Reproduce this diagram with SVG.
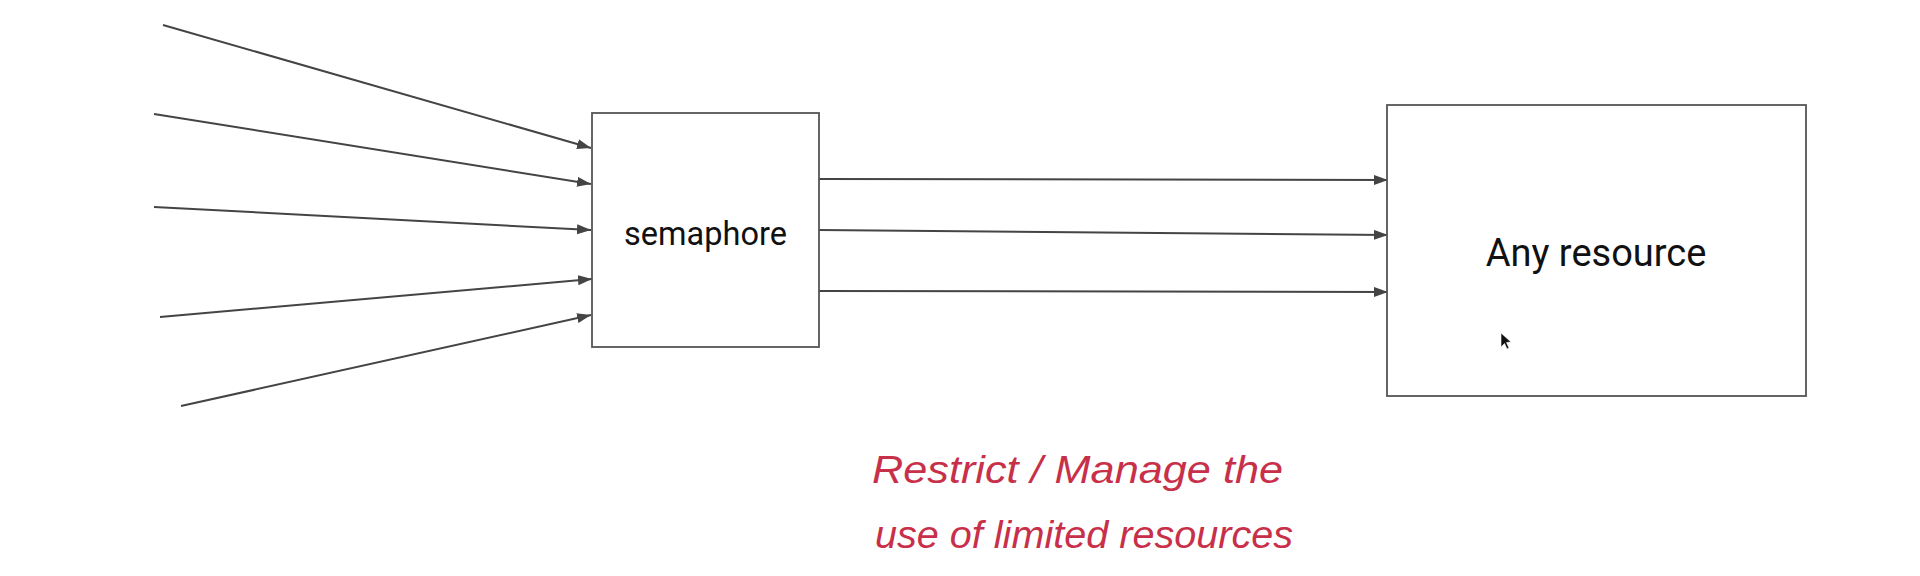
<svg xmlns="http://www.w3.org/2000/svg" width="1920" height="576" viewBox="0 0 1920 576">
<style>
.box{fill:#fff;stroke:#555;stroke-width:1.8}
.lbl{font-family:Roboto,"Liberation Sans",sans-serif;fill:#111;text-anchor:middle}
.edge{stroke:#444;stroke-width:2;fill:none;marker-end:url(#ah)}
.note{font-family:"Liberation Sans","DejaVu Sans",sans-serif;font-style:italic;fill:#c8304a;font-size:38px}
</style>
<defs>
<marker id="ah" markerUnits="userSpaceOnUse" markerWidth="16" markerHeight="11" refX="14" refY="5" orient="auto">
<path d="M0,0 L14,5 L0,10 z" fill="#444"/>
</marker>
</defs>
<rect width="1920" height="576" fill="#fff"/>
<g id="connectors">
<line class="edge" x1="163" y1="25" x2="591" y2="148"/>
<line class="edge" x1="154" y1="114" x2="591" y2="184"/>
<line class="edge" x1="154" y1="207" x2="591" y2="230"/>
<line class="edge" x1="160" y1="317" x2="592" y2="279"/>
<line class="edge" x1="181" y1="406" x2="591" y2="315"/>
<line class="edge" x1="819" y1="179" x2="1388" y2="180"/>
<line class="edge" x1="819" y1="230" x2="1388" y2="235"/>
<line class="edge" x1="819" y1="291" x2="1388" y2="292"/>
</g>
<g id="semaphore">
<rect class="box" x="592" y="113" width="227" height="234"/>
<text class="lbl" x="705.5" y="245" font-size="32.5">semaphore</text>
</g>
<g id="any-resource">
<rect class="box" x="1387" y="105" width="419" height="291"/>
<text class="lbl" x="1596" y="266" font-size="38">Any resource</text>
</g>
<g id="note">
<text class="note" x="872" y="483" textLength="411" lengthAdjust="spacingAndGlyphs">Restrict / Manage the</text>
<text class="note" x="875" y="548" textLength="418" lengthAdjust="spacingAndGlyphs">use of limited resources</text>
</g>
<path d="M1501,333 L1501,347 L1504.5,343.5 L1507,349 L1509,348 L1506.5,342.5 L1511,342 z" fill="#111" stroke="#fff" stroke-width="0.6"/>
</svg>
